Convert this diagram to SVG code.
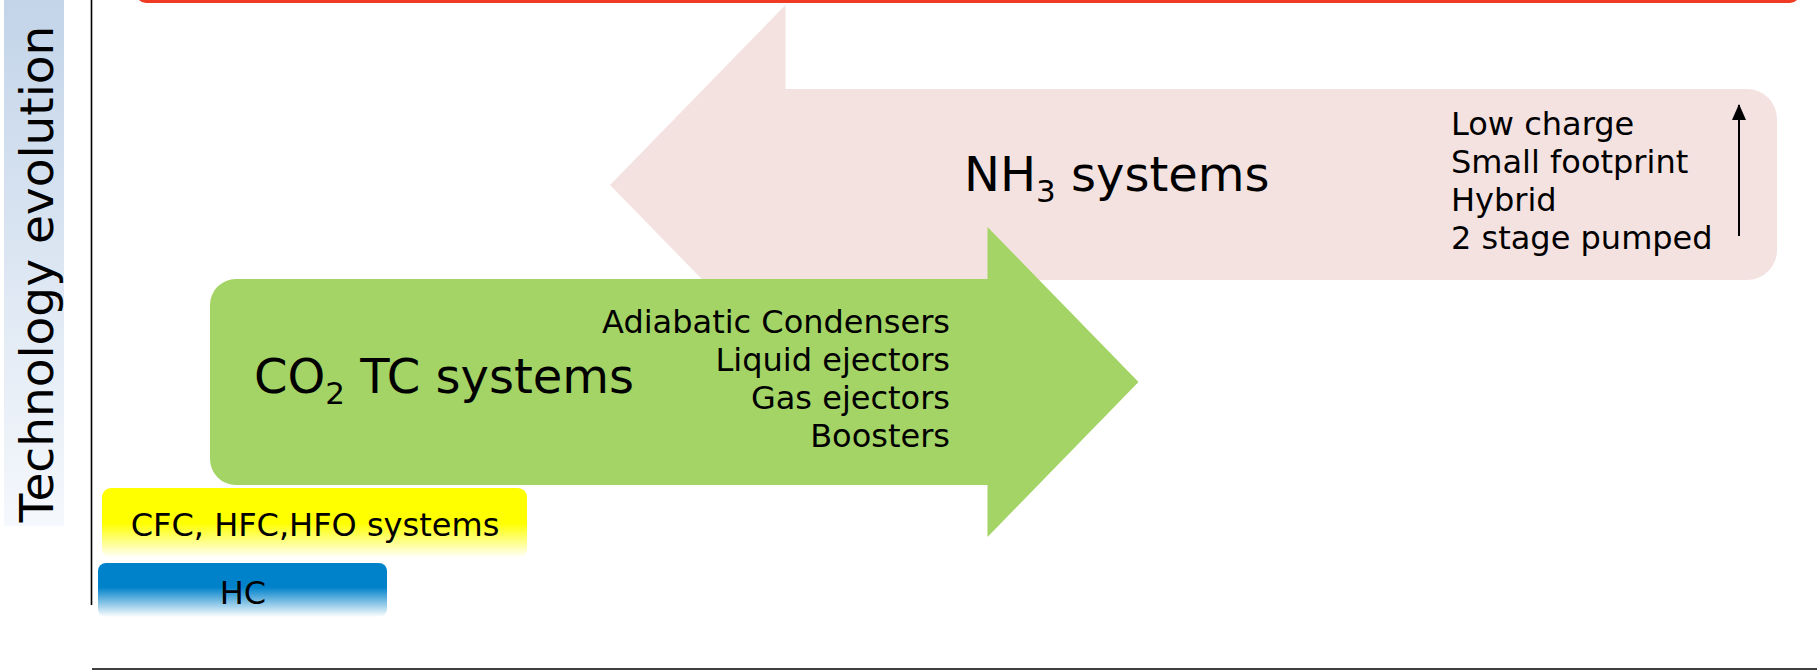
<svg xmlns="http://www.w3.org/2000/svg" width="1817" height="670" viewBox="0 0 1817 670">
<defs>
<style>
text{font-family:"DejaVu Sans","Verdana",sans-serif;fill:#000}
.big{font-size:48px}
.mid{font-size:32px}
.axis{stroke:#000;stroke-width:1.6;fill:none}
</style>
<linearGradient id="gLabel" x1="0" y1="0" x2="0" y2="1">
<stop offset="0" stop-color="#c3d4e9"/>
<stop offset="1" stop-color="#f5f8fc"/>
</linearGradient>
<linearGradient id="gYellow" x1="0" y1="0" x2="0" y2="1">
<stop offset="0" stop-color="#ffff00"/>
<stop offset="0.5" stop-color="#ffff00"/>
<stop offset="1" stop-color="#ffffff"/>
</linearGradient>
<linearGradient id="gBlue" x1="0" y1="0" x2="0" y2="1">
<stop offset="0" stop-color="#0082ca"/>
<stop offset="0.45" stop-color="#0082ca"/>
<stop offset="1" stop-color="#ffffff"/>
</linearGradient>
<marker id="ah" viewBox="0 0 16 14" refX="15" refY="7" markerWidth="16" markerHeight="14" markerUnits="userSpaceOnUse" orient="auto">
<path d="M0,0 L16,7 L0,14 Z" fill="#000"/>
</marker>
</defs>

<g id="top-box">
<rect x="136" y="-30" width="1664" height="33" rx="10" fill="#f03a24"/>
</g>

<g id="axis-label">
<rect x="4" y="0" width="60" height="526" fill="url(#gLabel)"/>
<text transform="translate(53,274) rotate(-90)" text-anchor="middle" style="font-size:47px">Technology evolution</text>
</g>

<g id="axes">
<line class="axis" x1="91.5" y1="0" x2="91.5" y2="605"/>
<line class="axis" x1="92" y1="669" x2="1817" y2="669"/>
</g>

<g id="nh3">
<path d="M610,185 L785.5,5 L785.5,89 L1747,89 A30,30 0 0 1 1777,119 L1777,250 A30,30 0 0 1 1747,280 L785.5,280 L785.5,365 Z" fill="#f4e2e1"/>
<text class="big" x="964" y="191">NH<tspan dy="11" style="font-size:31px">3</tspan><tspan dy="-11"> systems</tspan></text>
<text class="mid" x="1451" y="135">Low charge</text>
<text class="mid" x="1451" y="173">Small footprint</text>
<text class="mid" x="1451" y="211">Hybrid</text>
<text class="mid" x="1451" y="249">2 stage pumped</text>
</g>

<g id="co2">
<path d="M210,305 A26,26 0 0 1 236,279 L987.5,279 L987.5,227 L1138.5,382 L987.5,537 L987.5,485 L236,485 A26,26 0 0 1 210,459 Z" fill="#a3d465"/>
<text class="big" x="254" y="393">CO<tspan dy="11" style="font-size:31px">2</tspan><tspan dy="-11"> TC systems</tspan></text>
<g text-anchor="end">
<text class="mid" x="950" y="333">Adiabatic Condensers</text>
<text class="mid" x="950" y="371">Liquid ejectors</text>
<text class="mid" x="950" y="409">Gas ejectors</text>
<text class="mid" x="950" y="447">Boosters</text>
</g>
</g>

<g id="cfc">
<rect x="102" y="488" width="425" height="70" rx="9" fill="url(#gYellow)"/>
<text class="mid" x="315" y="536" text-anchor="middle">CFC, HFC,HFO systems</text>
</g>

<g id="hc">
<rect x="98" y="563" width="289" height="54" rx="8" fill="url(#gBlue)"/>
<text class="mid" x="243" y="604" text-anchor="middle">HC</text>
</g>

<g id="connectors">
<line x1="1739" y1="236" x2="1739" y2="105" stroke="#000" stroke-width="2" marker-end="url(#ah)"/>
</g>
</svg>
